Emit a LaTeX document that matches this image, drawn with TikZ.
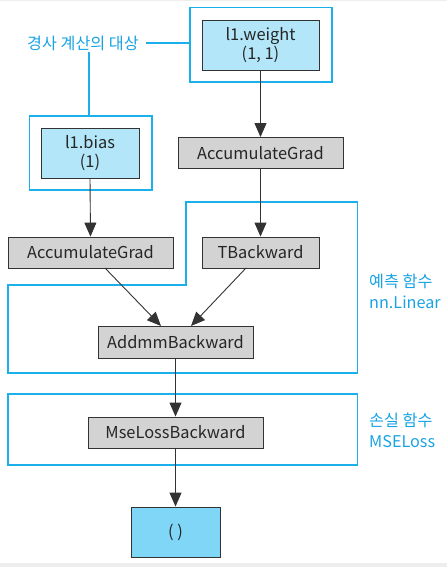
\documentclass[tikz,border=0pt]{standalone}
\usepackage{fontspec}
\setmainfont{Noto Sans CJK KR}
\usetikzlibrary{arrows.meta,positioning}
\definecolor{frameblue}{HTML}{1AB0EC}
\definecolor{labelblue}{HTML}{1AA3E3}
\definecolor{paramfill}{HTML}{B3E6F9}
\definecolor{outfill}{HTML}{80D6F7}
\definecolor{opfill}{HTML}{D3D3D3}
\definecolor{boxline}{HTML}{333333}
\definecolor{edgegray}{HTML}{EEEEEE}
\tikzset{
  box/.style={draw=boxline, line width=0.9pt, inner sep=0pt, font=\fontsize{16.4}{19.5}\selectfont, text=black!85, align=center},
  opbox/.style={box, fill=opfill},
  parambox/.style={box, fill=paramfill},
  outbox/.style={box, fill=outfill},
  frame/.style={draw=frameblue, line width=1.8pt},
  lbl/.style={text=labelblue, font=\fontsize{16.2}{20.5}\selectfont, align=left, inner sep=0pt},
  conn/.style={draw=black!80, line width=0.9pt, -{Triangle[length=14pt,width=12pt]}},
  lead/.style={draw=frameblue, line width=1.1pt}
}
\begin{document}
\begin{tikzpicture}[x=1pt,y=-1pt]
\useasboundingbox (0,0) rectangle (447,567);
\fill[edgegray] (0,0) rectangle (447,1.5);
\fill[edgegray] (0,563) rectangle (447,567);
% frames
\draw[frame] (190,7.5) rectangle (332,82);
\draw[frame] (29.5,116) rectangle (152,190);
\draw[frame] (186,202) -- (357.5,202) -- (357.5,373) -- (8,373) -- (8,285) -- (186,285) -- cycle;
\draw[frame] (8,394) rectangle (357.5,465);
% nodes
\node[parambox, minimum width=117pt, minimum height=50pt] (w) at (260.5,45) {l1.weight\\(1, 1)};
\node[parambox, minimum width=98pt, minimum height=50pt] (b) at (90,153) {l1.bias\\(1)};
\node[opbox, minimum width=165pt, minimum height=31pt] (accw) at (260.5,153) {AccumulateGrad};
\node[opbox, minimum width=165pt, minimum height=31pt] (accb) at (90.5,252.5) {AccumulateGrad};
\node[opbox, minimum width=117pt, minimum height=31pt] (t) at (260.5,252.5) {TBackward};
\node[opbox, minimum width=155pt, minimum height=32pt] (addmm) at (175.5,342) {AddmmBackward};
\node[opbox, minimum width=175pt, minimum height=31pt] (mse) at (175.5,432.5) {MseLossBackward};
\node[outbox, minimum width=89pt, minimum height=50pt] (out) at (175.5,532) {( )};
% labels
\node[lbl, anchor=west] (lg) at (27,43) {경사 계산의 대상};
\node[lbl, anchor=west] (ll) at (369,291.5) {예측 함수\\nn.Linear};
\node[lbl, anchor=west] (lm) at (369,430.5) {손실 함수\\MSELoss};
\coordinate (gw) at (190,43);
\coordinate (gb) at (89,116);
\draw[lead] (146,43) -- (gw);
\draw[lead] (89,52) -- (gb);
% connectors
\draw[conn] (w.south) -- (accw.north);
\draw[conn] (b.south) -- (accb.north);
\draw[conn] (accw.south) -- (t.north);
\draw[conn] (105,268) -- (161,326);
\draw[conn] (246,268) -- (191,326);
\draw[conn] (addmm.south) -- (mse.north);
\draw[conn] (mse.south) -- (out.north);
\end{tikzpicture}
\end{document}
